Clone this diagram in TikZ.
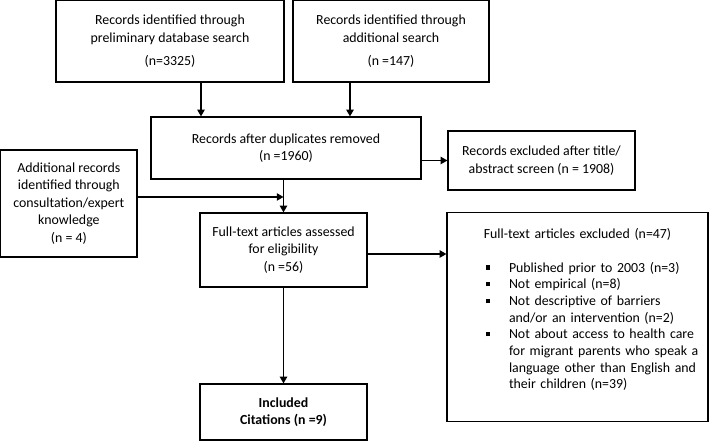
\documentclass[tikz,border=0pt]{standalone}
\usepackage{fontspec}
\setmainfont{Carlito}
\usepackage{tikz}
\usetikzlibrary{arrows.meta}

\newcommand{\exitem}[1]{\par\hangindent=17.25pt\hangafter=1\noindent\makebox[17.25pt][l]{\rule[1.8pt]{3.2pt}{3.2pt}}#1}

\begin{document}
\begin{tikzpicture}[x=0.75pt,y=-0.75pt,
        flowbox/.style={draw, line width=0.9pt, align=center, inner sep=0pt},
        flowarrow/.style={line width=0.9pt, -{Triangle[length=5pt,width=5.5pt]}},
        font=\fontsize{10.4pt}{13.2pt}\selectfont]
    \useasboundingbox (0,0) rectangle (709,441);

    \node[flowbox, minimum width=171pt, minimum height=61pt] (prelim) at (170,41.35)
        {Records identified through\\ preliminary database search\\[4pt] (n=3325)};
    \node[flowbox, minimum width=147pt, minimum height=61pt] (addl) at (391,41.35)
        {Records identified through\\ additional search\\[4pt] (n =147)};
    \node[flowbox, minimum width=202.5pt, minimum height=46.5pt] (dup) at (286,148)
        {Records after duplicates removed\\ (n =1960)};
    \node[flowbox, minimum width=140.25pt, minimum height=44.25pt] (scrn) at (541.5,160.5)
        {Records excluded after title/\\ abstract screen (n = 1908)};
    \node[flowbox, minimum width=102.2pt, minimum height=80.25pt] (consult) at (68.85,203.5)
        {Additional records\\ identified through\\ consultation/expert\\ knowledge\\ (n = 4)};
    \node[flowbox, minimum width=125.25pt, minimum height=55.5pt] (full) at (283.5,250)
        {Full-text articles assessed\\ for eligibility\\ (n =56)};
    \node[flowbox, minimum width=125.25pt, minimum height=42pt] (incl) at (283.5,412)
        {\bfseries Included\\ \bfseries Citations (n =9)};

    % excluded full texts with reasons
    \node[draw, line width=0.9pt, inner sep=0pt, text width=195.75pt, minimum height=157pt] (fullex) at (577.5,317)
        {\fontsize{10.4pt}{12.5pt}\selectfont
         {\centering Full-text articles excluded (n=47)\par}
         \mbox{}\par
         {\raggedright\leftskip=29.25pt
          \exitem{Published prior to 2003 (n=3)}
          \exitem{Not empirical (n=8)}
          \exitem{Not descriptive of barriers\newline and/or an intervention (n=2)}
          \exitem{Not about access to health care\newline for migrant parents who speak a\newline language other than English and\newline their children (n=39)}
          \par}
         \mbox{}\par};

    \draw[flowarrow] ([xshift=23.25pt]prelim.south) -- ([xshift=23.25pt]prelim.south |- dup.north);
    \draw[flowarrow] ([xshift=-30.75pt]addl.south) -- ([xshift=-30.75pt]addl.south |- dup.north);
    \draw[flowarrow] (dup.east |- scrn.west) -- (scrn.west);
    \draw[flowarrow] (dup.south -| full.north) -- (full.north);
    \draw[flowarrow] ([yshift=4.9pt]consult.east) -- ([yshift=4.9pt]consult.east -| full.north);
    \draw[flowarrow] ([yshift=-3pt]full.east) -- ([yshift=-3pt]full.east -| fullex.west);
    \draw[flowarrow] (full.south) -- (incl.north);
\end{tikzpicture}
\end{document}
